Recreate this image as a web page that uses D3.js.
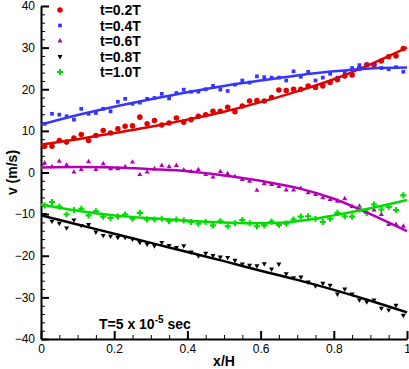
<!DOCTYPE html>
<html>
<head>
<meta charset="utf-8">
<script src="https://cdn.jsdelivr.net/npm/d3@7"></script>
<style>
  body { margin: 0; background: #fff; }
  svg { display: block; font-family: 'Liberation Sans', Arial, sans-serif; }
  .axis path, .axis line { stroke: #000; }
  .axis text { font-size: 12px; fill: #000; }
  .bold { font-weight: bold; font-size: 14px; }
</style>
</head>
<body>
<div id="chart"></div>
<script>
// sample positions along x/H
const xPos = [0.01, 0.03, 0.05, 0.07, 0.09, 0.11, 0.13, 0.15, 0.17, 0.19,
              0.21, 0.23, 0.25, 0.27, 0.29, 0.31, 0.33, 0.35, 0.37, 0.39,
              0.41, 0.43, 0.45, 0.47, 0.49, 0.51, 0.53, 0.55, 0.57, 0.59,
              0.61, 0.63, 0.65, 0.67, 0.69, 0.71, 0.73, 0.75, 0.77, 0.79,
              0.81, 0.83, 0.85, 0.87, 0.89, 0.91, 0.93, 0.95, 0.97, 0.99];

// measured velocity (m/s)
const v02 = [6.3, 6.3, 7.7, 7.3, 8.3, 9.1, 7.7, 8.9, 10.1, 9.5,
             10.5, 11.1, 11.2, 13.3, 11.7, 12.5, 11.4, 11.9, 13.1, 12.1,
             12.7, 13.5, 13.9, 14.7, 14.7, 15.7, 14.6, 16.0, 17.2, 17.3,
             17.2, 18.0, 19.8, 19.7, 20.0, 20.0, 20.8, 20.4, 20.8, 21.6,
             22.3, 23.2, 23.4, 25.0, 25.9, 25.9, 26.8, 27.8, 28.0, 29.8];
const v04 = [11.7, 14.1, 13.9, 13.5, 12.7, 15.3, 14.1, 14.3, 15.3, 14.7,
             17.0, 17.7, 16.5, 16.8, 17.7, 17.9, 18.9, 17.8, 19.1, 19.9,
             19.4, 19.4, 20.0, 20.8, 19.9, 19.6, 21.1, 22.1, 21.6, 23.1,
             22.9, 22.8, 22.8, 22.1, 24.3, 23.0, 24.2, 22.1, 22.8, 23.7,
             22.8, 24.0, 25.1, 25.8, 25.9, 26.0, 25.1, 24.8, 25.3, 24.2];
const v06 = [2.3, 1.4, 2.7, 1.8, 0.1, 0.7, 2.6, 0.7, 2.1, 0.9,
             0.9, 1.4, 2.5, -0.5, 0.1, 0.9, 1.7, 1.4, 1.7, 0.6,
             0.2, 0.7, -0.5, -1.1, 0.2, -0.3, -1.0, -1.7, -2.1, -4.3,
             -2.7, -2.9, -3.4, -4.2, -4.2, -3.8, -4.9, -5.3, -6.1, -6.5,
             -6.9, -6.3, -8.2, -8.1, -9.5, -9.0, -10.1, -12.5, -12.5, -12.9];
const v08 = [-10.1, -11.7, -12.2, -13.3, -11.4, -12.7, -12.5, -14.3, -15.1, -15.3,
             -15.6, -15.6, -16.0, -16.8, -17.2, -17.6, -16.8, -17.5, -18.0, -17.6,
             -19.1, -20.0, -19.4, -19.9, -20.3, -20.4, -21.1, -22.0, -22.3, -22.4,
             -21.9, -23.2, -22.0, -24.3, -25.3, -25.1, -26.3, -27.2, -26.6, -27.1,
             -29.2, -28.0, -29.2, -30.6, -31.1, -30.6, -32.6, -33.0, -31.9, -34.3];
const v10 = [-7.9, -7.1, -8.2, -10.1, -9.0, -8.7, -10.3, -9.3, -10.6, -10.9,
             -10.6, -10.1, -11.1, -9.7, -11.3, -11.3, -11.1, -11.7, -11.3, -11.5,
             -11.9, -12.3, -11.9, -12.7, -11.7, -12.9, -12.2, -11.4, -12.2, -12.9,
             -12.7, -11.8, -12.6, -12.3, -11.3, -10.6, -10.5, -11.1, -11.9, -11.1,
             -9.7, -10.5, -10.6, -8.9, -9.7, -7.7, -8.9, -8.3, -9.0, -5.5];

// fitted curves, sampled every 0.1
const fitX = [0, 0.1, 0.2, 0.3, 0.4, 0.5, 0.6, 0.7, 0.8, 0.9, 1.0];
const fit02 = [6.7, 8.0, 9.5, 11.0, 12.7, 14.6, 16.9, 19.5, 22.4, 26.0, 30.0];
const fit04 = [11.5, 13.8, 15.8, 17.6, 19.3, 20.8, 22.1, 23.3, 24.3, 25.0, 25.2];
const fit06 = [1.2, 1.3, 1.2, 0.8, 0.3, -0.7, -2.0, -3.7, -6.3, -10.0, -14.1];
const fit08 = [-10.3, -12.5, -14.7, -16.9, -19.1, -21.3, -23.6, -25.8, -28.2, -30.8, -33.6];
const fit10 = [-7.7, -9.2, -10.3, -11.0, -11.6, -12.0, -12.2, -11.7, -10.3, -8.6, -6.6];

const labels = ['t=0.2T', 't=0.4T', 't=0.6T', 't=0.8T', 't=1.0T'];
const xTicks = [0, 0.2, 0.4, 0.6, 0.8, 1];
const yTicks = [-40, -30, -20, -10, 0, 10, 20, 30, 40];

const series = [
    { label: labels[0], pts: v02, fit: fit02, color: '#e00000', symbol: d3.symbolCircle, size: 24 },
    { label: labels[1], pts: v04, fit: fit04, color: '#3535ff', symbol: d3.symbolSquare, size: 14 },
    { label: labels[2], pts: v06, fit: fit06, color: '#b400b4', symbol: d3.symbolTriangle, size: 11, rot: 0 },
    { label: labels[3], pts: v08, fit: fit08, color: '#000000', symbol: d3.symbolTriangle, size: 11, rot: 180 },
    { label: labels[4], pts: v10, fit: fit10, color: '#00dc00', symbol: d3.symbolCross, size: 21 }
];

const width = 409, height = 369;
const margin = { top: 6, right: 2, bottom: 30, left: 41 };
const w = width - margin.left - margin.right;
const h = height - margin.top - margin.bottom;

const svg = d3.select('#chart').append('svg')
    .attr('width', width)
    .attr('height', height);

const chart = svg.append('g')
    .attr('transform', `translate(${margin.left},${margin.top})`);

const xScale = d3.scaleLinear().domain([0, 1]).range([0, w]);
const yScale = d3.scaleLinear().domain([-40, 40]).range([h, 0]);

// minor ticks first so the major ones sit on top
const xMinor = d3.range(0, 1.0001, 0.05).filter(d => xTicks.every(t => Math.abs(t - d) > 1e-6));
const yMinor = d3.range(-40, 40.01, 2).filter(d => d % 10 !== 0);

chart.append('g')
    .attr('class', 'axis')
    .attr('transform', `translate(0,${h})`)
    .call(d3.axisBottom(xScale).tickValues(xMinor).tickFormat('').tickSize(-4).tickSizeOuter(0))
    .call(g => g.select('.domain').remove())
    .selectAll('line').attr('stroke-width', 1);

chart.append('g')
    .attr('class', 'axis')
    .call(d3.axisLeft(yScale).tickValues(yMinor).tickFormat('').tickSize(-4).tickSizeOuter(0))
    .call(g => g.select('.domain').remove())
    .selectAll('line').attr('stroke-width', 1);

chart.append('g')
    .attr('class', 'axis')
    .attr('transform', `translate(0,${h})`)
    .call(d3.axisBottom(xScale).tickValues(xTicks).tickFormat(d3.format('~g'))
        .tickSize(-8).tickSizeOuter(0).tickPadding(5))
    .call(g => g.select('.domain').attr('stroke-width', 2))
    .call(g => g.selectAll('line').attr('stroke-width', 2));

chart.append('g')
    .attr('class', 'axis')
    .call(d3.axisLeft(yScale).tickValues(yTicks)
        .tickSize(-8).tickSizeOuter(0).tickPadding(6))
    .call(g => g.select('.domain').attr('stroke-width', 2))
    .call(g => g.selectAll('line').attr('stroke-width', 2));

// markers
series.forEach(s => {
    chart.append('g')
        .selectAll('path')
        .data(s.pts)
        .join('path')
        .attr('transform', (d, i) => `translate(${xScale(xPos[i])},${yScale(d)}) rotate(${s.rot || 0})`)
        .attr('d', d3.symbol().type(s.symbol).size(s.size))
        .attr('fill', s.color);
});

// fitted lines
const line = d3.line()
    .x((d, i) => xScale(fitX[i]))
    .y(d => yScale(d))
    .curve(d3.curveCatmullRom);

series.forEach(s => {
    chart.append('path')
        .datum(s.fit)
        .attr('d', line)
        .attr('fill', 'none')
        .attr('stroke', s.color)
        .attr('stroke-width', 2.5);
});

// legend
const legend = svg.append('g');
series.forEach((s, i) => {
    const y = 10 + i * 15.5;
    legend.append('path')
        .attr('transform', `translate(60,${y}) rotate(${s.rot || 0})`)
        .attr('d', d3.symbol().type(s.symbol).size(s.size))
        .attr('fill', s.color);
    legend.append('text')
        .attr('class', 'bold')
        .attr('x', 100)
        .attr('y', y + 5)
        .text(s.label);
});

// annotation
const note = svg.append('text')
    .attr('class', 'bold')
    .attr('x', 99)
    .attr('y', 329);
note.append('tspan').text('T=5 x 10');
note.append('tspan').attr('dy', -6).attr('font-size', 10).text('-5');
note.append('tspan').attr('dy', 6).text(' sec');

// axis titles
svg.append('text')
    .attr('class', 'bold')
    .attr('x', margin.left + w / 2)
    .attr('y', 366)
    .attr('text-anchor', 'middle')
    .text('x/H');

svg.append('text')
    .attr('class', 'bold')
    .attr('transform', `translate(17,${margin.top + h / 2}) rotate(-90)`)
    .attr('text-anchor', 'middle')
    .text('v (m/s)');
</script>
</body>
</html>
